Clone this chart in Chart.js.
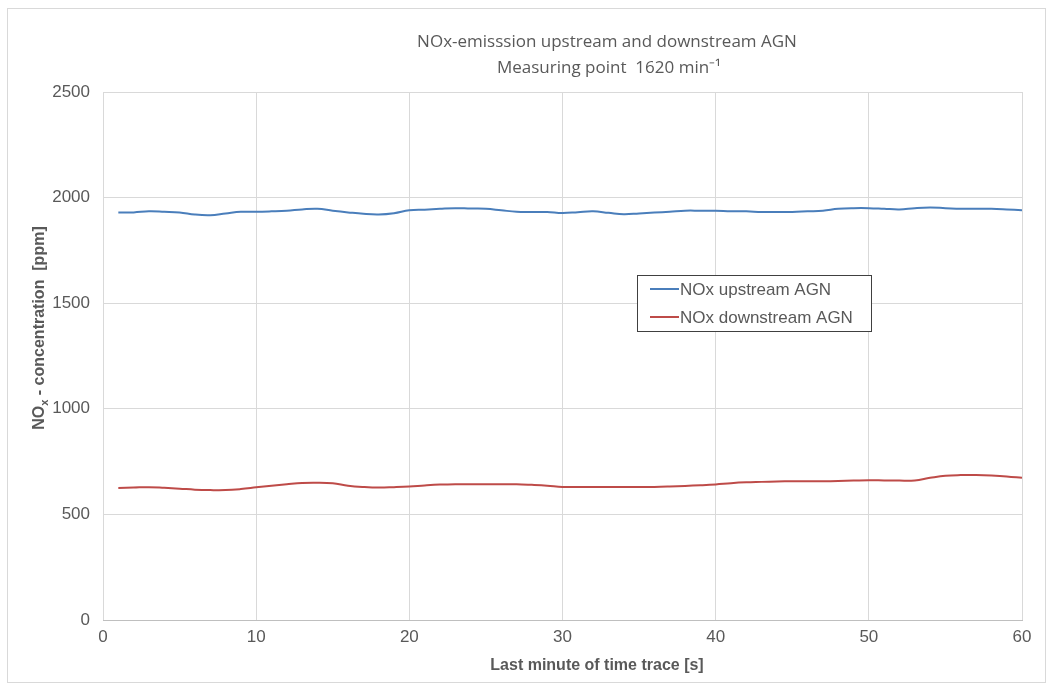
<!DOCTYPE html>
<html>
<head>
<meta charset="utf-8">
<title>NOx emission</title>
<script src="https://cdn.jsdelivr.net/npm/chart.js@4"></script>
<style>
    html, body { margin: 0; padding: 0; background: #fff; }
    #wrap { width: 1053px; height: 686px; position: relative; }
</style>
</head>
<body>
<div id="wrap"><canvas id="noxChart" width="1053" height="686"></canvas></div>
<script>
// time in seconds (last minute of the trace)
const seconds = [1, 2, 3, 4, 5, 6, 7, 8, 9, 10, 11, 12, 13, 14, 15, 16, 17, 18, 19, 20,
    21, 22, 23, 24, 25, 26, 27, 28, 29, 30, 31, 32, 33, 34, 35, 36, 37, 38, 39, 40,
    41, 42, 43, 44, 45, 46, 47, 48, 49, 50, 51, 52, 53, 54, 55, 56, 57, 58, 59, 60];

const noxUpstream = [1930, 1930, 1935, 1933, 1930, 1920, 1917, 1925, 1933, 1933,
    1935, 1938, 1944, 1947, 1938, 1930, 1923, 1920, 1926, 1940,
    1943, 1947, 1950, 1948, 1947, 1940, 1933, 1932, 1932, 1927,
    1931, 1935, 1928, 1921, 1925, 1929, 1933, 1938, 1938, 1938,
    1935, 1935, 1932, 1932, 1932, 1935, 1938, 1947, 1950, 1950,
    1947, 1944, 1950, 1953, 1950, 1947, 1947, 1947, 1944, 1940];

const noxDownstream = [625, 627, 629, 626, 622, 617, 615, 615, 620, 628,
    636, 643, 649, 650, 647, 636, 630, 627, 629, 632,
    637, 641, 643, 643, 643, 643, 643, 640, 636, 630,
    630, 630, 630, 630, 630, 630, 632, 635, 638, 642,
    648, 652, 654, 656, 657, 657, 657, 658, 660, 662,
    661, 660, 661, 673, 683, 686, 686, 684, 680, 673];

const seriesNames = ['NOx upstream AGN', 'NOx downstream AGN'];
const seriesColors = ['#4A7EBB', '#BE4B48'];

const titleLines = ['NOx-emisssion upstream and downstream AGN', 'Measuring point  1620 min\u207B\u00B9'];
const xTitle = 'Last minute of time trace [s]';

const gray = '#595959';
const axisFont = '"Liberation Sans", Arial, sans-serif';

function toPoints(values) {
    return values.map((v, i) => ({ x: seconds[i], y: v }));
}

// titres, légende et cadre extérieur
const decorPlugin = {
    id: 'decor',
    beforeDraw(chart) {
        const ctx = chart.ctx;
        ctx.save();
        ctx.fillStyle = '#fff';
        ctx.fillRect(0, 0, chart.width, chart.height);
        ctx.strokeStyle = '#d9d9d9';
        ctx.lineWidth = 1;
        ctx.strokeRect(7.5, 8.5, chart.width - 15, chart.height - 12);
        ctx.restore();
    },
    afterDraw(chart) {
        const ctx = chart.ctx;
        ctx.save();
        ctx.fillStyle = gray;
        ctx.font = '17px "Open Sans", "Liberation Sans", sans-serif';
        ctx.textAlign = 'center';
        ctx.textBaseline = 'middle';
        ctx.fillText(titleLines[0], 607, 42);
        ctx.fillText(titleLines[1], 609, 68);

        // x axis title
        ctx.font = 'bold 16px ' + axisFont;
        ctx.fillText(xTitle, 597, 666);

        // y axis title, with subscript x
        ctx.translate(40, 328);
        ctx.rotate(-Math.PI / 2);
        const partA = 'NO', partB = 'x', partC = ' - concentration  [ppm]';
        ctx.font = 'bold 16px ' + axisFont;
        const wA = ctx.measureText(partA).width;
        const wC = ctx.measureText(partC).width;
        ctx.font = 'bold 11px ' + axisFont;
        const wB = ctx.measureText(partB).width;
        let x0 = -(wA + wB + wC) / 2;
        ctx.textAlign = 'left';
        ctx.font = 'bold 16px ' + axisFont;
        ctx.fillText(partA, x0, 0);
        ctx.font = 'bold 11px ' + axisFont;
        ctx.fillText(partB, x0 + wA, 5);
        ctx.font = 'bold 16px ' + axisFont;
        ctx.fillText(partC, x0 + wA + wB, 0);
        ctx.restore();

        // legend box
        ctx.save();
        const lx = 637, ly = 275, lw = 234, lh = 56;
        ctx.fillStyle = '#fff';
        ctx.fillRect(lx, ly, lw, lh);
        ctx.strokeStyle = '#404040';
        ctx.lineWidth = 1;
        ctx.strokeRect(lx + 0.5, ly + 0.5, lw, lh);
        ctx.font = '17px ' + axisFont;
        ctx.textAlign = 'left';
        ctx.textBaseline = 'middle';
        chart.data.datasets.forEach((ds, i) => {
            const y = ly + 14 + i * 28;
            ctx.strokeStyle = ds.borderColor;
            ctx.lineWidth = 2;
            ctx.beginPath();
            ctx.moveTo(lx + 13, y);
            ctx.lineTo(lx + 42, y);
            ctx.stroke();
            ctx.fillStyle = gray;
            ctx.fillText(ds.label, lx + 43, y + 1);
        });
        ctx.restore();
    }
};

const ctx = document.getElementById('noxChart').getContext('2d');
const chart = new Chart(ctx, {
    type: 'line',
    data: {
        datasets: [
            {
                label: seriesNames[0],
                data: toPoints(noxUpstream),
                borderColor: seriesColors[0],
                borderWidth: 2,
                pointRadius: 0,
                tension: 0.4,
                fill: false
            },
            {
                label: seriesNames[1],
                data: toPoints(noxDownstream),
                borderColor: seriesColors[1],
                borderWidth: 2,
                pointRadius: 0,
                tension: 0.4,
                fill: false
            }
        ]
    },
    options: {
        responsive: false,
        animation: false,
        layout: {
            padding: { top: 92, right: 31, left: 0, bottom: 0 }
        },
        plugins: {
            legend: { display: false },
            title: { display: false },
            tooltip: { enabled: false }
        },
        scales: {
            x: {
                type: 'linear',
                min: 0,
                max: 60,
                ticks: {
                    stepSize: 10,
                    color: gray,
                    font: { family: axisFont, size: 17 },
                    padding: 7
                },
                grid: { color: '#d9d9d9', drawTicks: false },
                border: { color: '#bfbfbf' },
                afterFit(scale) { scale.height = 66; }
            },
            y: {
                min: 0,
                max: 2500,
                ticks: {
                    stepSize: 500,
                    color: gray,
                    font: { family: axisFont, size: 17 },
                    padding: 13,
                    format: { useGrouping: false }
                },
                grid: { color: '#d9d9d9', drawTicks: false },
                border: { display: false },
                afterFit(scale) { scale.width = 103; }
            }
        }
    },
    plugins: [decorPlugin]
});
</script>
</body>
</html>
